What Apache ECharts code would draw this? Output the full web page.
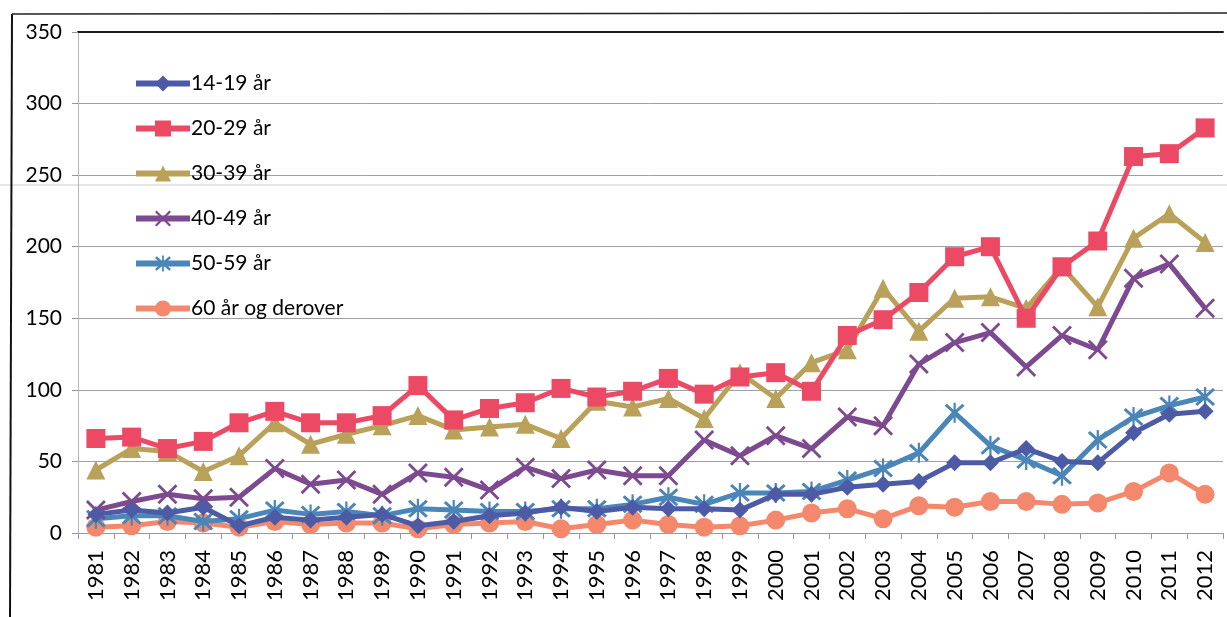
<!DOCTYPE html>
<html>
<head>
<meta charset="utf-8">
<title>Aldersgrupper 1981-2012</title>
<script src="https://cdn.jsdelivr.net/npm/echarts@6/dist/echarts.min.js"></script>
<style>
  html, body { margin: 0; padding: 0; background: #fff; }
  #chart { width: 1227px; height: 617px; }
</style>
</head>
<body>
<div id="chart"></div>
<script>
// kategorier (år)
const years = ['1981','1982','1983','1984','1985','1986','1987','1988','1989','1990',
  '1991','1992','1993','1994','1995','1996','1997','1998','1999','2000',
  '2001','2002','2003','2004','2005','2006','2007','2008','2009','2010','2011','2012']

// seriedata, lest av bildet
const age14to19 = [13,16,14,18,5,11,9,11,13,5,8,12,14,18,15,18,17,17,16,27,27,32,34,36,49,49,59,50,49,70,83,85]
const age20to29 = [66,67,59,64,77,85,77,77,82,103,79,87,91,101,95,99,108,97,109,112,99,138,149,168,193,200,150,186,204,263,265,283]
const age30to39 = [44,59,57,43,54,77,62,69,75,82,72,74,76,66,92,88,94,80,112,94,119,128,171,141,164,165,157,186,158,206,223,203]
const age40to49 = [16,22,27,24,25,45,34,37,27,42,39,30,46,38,44,40,40,65,54,68,59,81,75,118,133,140,116,138,128,178,188,157]
const age50to59 = [10,12,12,8,10,16,13,15,12,17,16,15,15,17,17,20,25,20,28,28,29,37,45,56,84,61,51,40,65,81,89,95]
const age60plus = [4,5,8,7,4,8,6,7,7,3,6,7,8,3,6,9,6,4,5,9,14,17,10,19,18,22,22,20,21,29,42,27]

const yTicks = [0, 50, 100, 150, 200, 250, 300, 350]

const names = ['14-19 år', '20-29 år', '30-39 år', '40-49 år', '50-59 år', '60 år og derover']
const colors = ['#4d5ba6', '#ec4a64', '#b9a159', '#7d4a8f', '#4a86b8', '#f4886c']

const xSymbol = 'path://M0,2 L2,0 L10,8 L18,0 L20,2 L12,10 L20,18 L18,20 L10,12 L2,20 L0,18 L8,10 Z'
const starSymbol = 'path://M9,0 L11,0 L11,20 L9,20 Z M1,3 L3,1 L19,17 L17,19 Z M17,1 L19,3 L3,19 L1,17 Z'

const seriesData = [age14to19, age20to29, age30to39, age40to49, age50to59, age60plus]
const symbols = ['diamond', 'rect', 'triangle', xSymbol, starSymbol, 'circle']
const symbolSizes = [17, 19, 19, 20, 20, 19]

const chart = echarts.init(document.getElementById('chart'))

const option = {
  backgroundColor: '#fff',
  animation: false,
  grid: { left: 78, right: 4, top: 32, bottom: 84 },
  legend: {
    orient: 'vertical',
    left: 128,
    top: 68,
    itemWidth: 54,
    itemHeight: 20,
    itemGap: 24,
    data: names,
    lineStyle: { width: 6 },
    textStyle: { fontFamily: 'Lato', fontSize: 21, color: '#000', lineHeight: 20, padding: [0, 0, 0, -4] }
  },
  xAxis: [
    {
      type: 'category',
      data: years,
      axisLine: { lineStyle: { color: '#9a94a4', width: 1 } },
      axisTick: { show: true, length: 6, lineStyle: { color: '#9a94a4' } },
      axisLabel: { rotate: 90, interval: 0, margin: 17, fontFamily: 'Lato', fontSize: 22, color: '#000' }
    },
    {
      type: 'category',
      position: 'top',
      data: years,
      axisLine: { lineStyle: { color: '#1a1a1a', width: 2 } },
      axisTick: { show: false },
      axisLabel: { show: false }
    }
  ],
  yAxis: {
    type: 'value',
    min: yTicks[0],
    max: yTicks[yTicks.length - 1],
    interval: 50,
    axisLine: { show: true, lineStyle: { color: '#b8b2c0' } },
    axisTick: { show: true, length: 6, lineStyle: { color: '#9a94a4' } },
    axisLabel: { margin: 16, fontFamily: 'Lato', fontSize: 21, color: '#000' },
    splitLine: { lineStyle: { color: '#a39cab', width: 1 } }
  },
  graphic: [
    // kant fra skannet side
    { type: 'line', shape: { x1: 12, y1: 14, x2: 10, y2: 617 }, style: { stroke: '#111', lineWidth: 2 } },
    { type: 'line', shape: { x1: 12, y1: 14, x2: 1227, y2: 13 }, style: { stroke: '#222', lineWidth: 1.5 } },
    { type: 'line', shape: { x1: 0, y1: 185, x2: 1227, y2: 185 }, style: { stroke: '#e6e6ea', lineWidth: 2 }, z: -1 }
  ],
  series: names.map((name, i) => ({
    name: name,
    type: 'line',
    data: seriesData[i],
    symbol: symbols[i],
    symbolSize: symbolSizes[i],
    showAllSymbol: true,
    color: colors[i],
    lineStyle: { width: 5, color: colors[i] },
    itemStyle: { color: colors[i] },
    z: 10 - i
  }))
}

chart.setOption(option)
window.addEventListener('resize', () => chart.resize())
</script>
</body>
</html>
